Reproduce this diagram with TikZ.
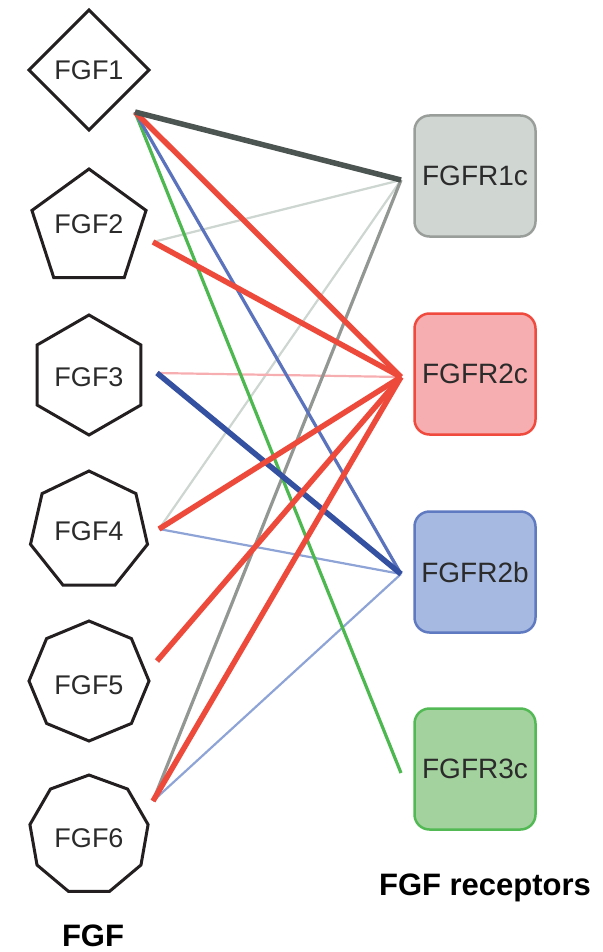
\documentclass[tikz,border=0pt]{standalone}
\usepackage{fontspec}
\setmainfont{Liberation Sans}
\usetikzlibrary{shapes.geometric}
\definecolor{shapeblack}{HTML}{231F20}
\definecolor{txt}{HTML}{2B2B2B}
\definecolor{darkgray}{HTML}{4D5552}
\definecolor{midgray}{HTML}{939794}
\definecolor{lightgray}{HTML}{CDD6D1}
\definecolor{redline}{HTML}{EE4A3B}
\definecolor{pinkline}{HTML}{F7AEB0}
\definecolor{blueline}{HTML}{5B73BD}
\definecolor{darkblue}{HTML}{3450A0}
\definecolor{lightblue}{HTML}{8EA3D6}
\definecolor{greenline}{HTML}{4CB84F}
\definecolor{r1fill}{HTML}{D0D7D3}
\definecolor{r1draw}{HTML}{9A9E9B}
\definecolor{r2cfill}{HTML}{F7AEB0}
\definecolor{r2cdraw}{HTML}{EF4A3D}
\definecolor{r2bfill}{HTML}{A6B9E0}
\definecolor{r2bdraw}{HTML}{5F7AC0}
\definecolor{r3fill}{HTML}{A3D29E}
\definecolor{r3draw}{HTML}{52B954}
\begin{document}
\begin{tikzpicture}[x=1pt,y=-1pt,
  fgf/.style={draw=shapeblack, line width=3pt, regular polygon, minimum size=120pt,
    inner sep=0pt, outer sep=0pt},
  fgftext/.style={text=txt, font=\fontsize{27}{30}\selectfont},
  rec/.style={rectangle, line width=2.5pt, rounded corners=15pt, minimum width=121pt,
    minimum height=121pt, inner sep=0pt, text=txt, font=\fontsize{28}{31}\selectfont},
  title/.style={anchor=base, font=\fontsize{31}{34}\selectfont\bfseries, text=black},
  strong/.style={line width=5.5pt},
  med/.style={line width=3.2pt},
  weak/.style={line width=2.2pt}]
\useasboundingbox (0,0) rectangle (602,952);
% ligand nodes
\node[fgf, regular polygon sides=4, shape border rotate=45,
  label={[fgftext]center:FGF1}] (f1) at (89,70) {};
\node[fgf, regular polygon sides=5,
  label={[fgftext, yshift=5pt]center:FGF2}] (f2) at (89,229) {};
\node[fgf, regular polygon sides=6, shape border rotate=30,
  label={[fgftext, yshift=-2pt]center:FGF3}] (f3) at (89,375) {};
\node[fgf, regular polygon sides=7,
  label={[fgftext]center:FGF4}] (f4) at (89,531) {};
\node[fgf, regular polygon sides=8, shape border rotate=22.5,
  label={[fgftext, yshift=-4pt]center:FGF5}] (f5) at (89,681) {};
\node[fgf, regular polygon sides=9,
  label={[fgftext, yshift=-3pt]center:FGF6}] (f6) at (89,835) {};
% receptor nodes
\node[rec, draw=r1draw, fill=r1fill] (r1) at (475,176) {FGFR1c};
\node[rec, draw=r2cdraw, fill=r2cfill] (r2c) at (475,374) {FGFR2c};
\node[rec, draw=r2bdraw, fill=r2bfill] (r2b) at (475,572) {FGFR2b};
\node[rec, draw=r3draw, fill=r3fill] (r3) at (475,769) {FGFR3c};
% titles
\node[title] (tl) at (93,946) {FGF};
\node[title] (tr) at (485,895) {FGF receptors};
% connector ends
\coordinate (o1) at (135,112);
\coordinate (o2) at (153,242);
\coordinate (o3) at (157,373);
\coordinate (o4) at (159,529);
\coordinate (o5) at (157,661);
\coordinate (o6) at (153,801);
\coordinate (i1) at (401,180);
\coordinate (i2c) at (401,377);
\coordinate (i2b) at (401,574);
\coordinate (i3) at (401,773);
% connectors
\draw[weak, lightgray] (o2) -- (i1);
\draw[weak, lightgray] (o4) -- (i1);
\draw[weak, pinkline] (o3) -- (i2c);
\draw[weak, lightblue] (o4) -- (i2b);
\draw[weak, lightblue] (o6) -- (i2b);
\draw[med, midgray] (o6) -- (i1);
\draw[med, greenline] (o1) -- (i3);
\draw[med, blueline] (o1) -- (i2b);
\draw[strong, darkblue] (o3) -- (i2b);
\draw[strong, redline] (o1) -- (i2c);
\draw[strong, redline] (o2) -- (i2c);
\draw[strong, redline] (o4) -- (i2c);
\draw[strong, redline] (o5) -- (i2c);
\draw[strong, redline] (o6) -- (i2c);
\draw[strong, darkgray] (o1) -- (i1);
\end{tikzpicture}
\end{document}
